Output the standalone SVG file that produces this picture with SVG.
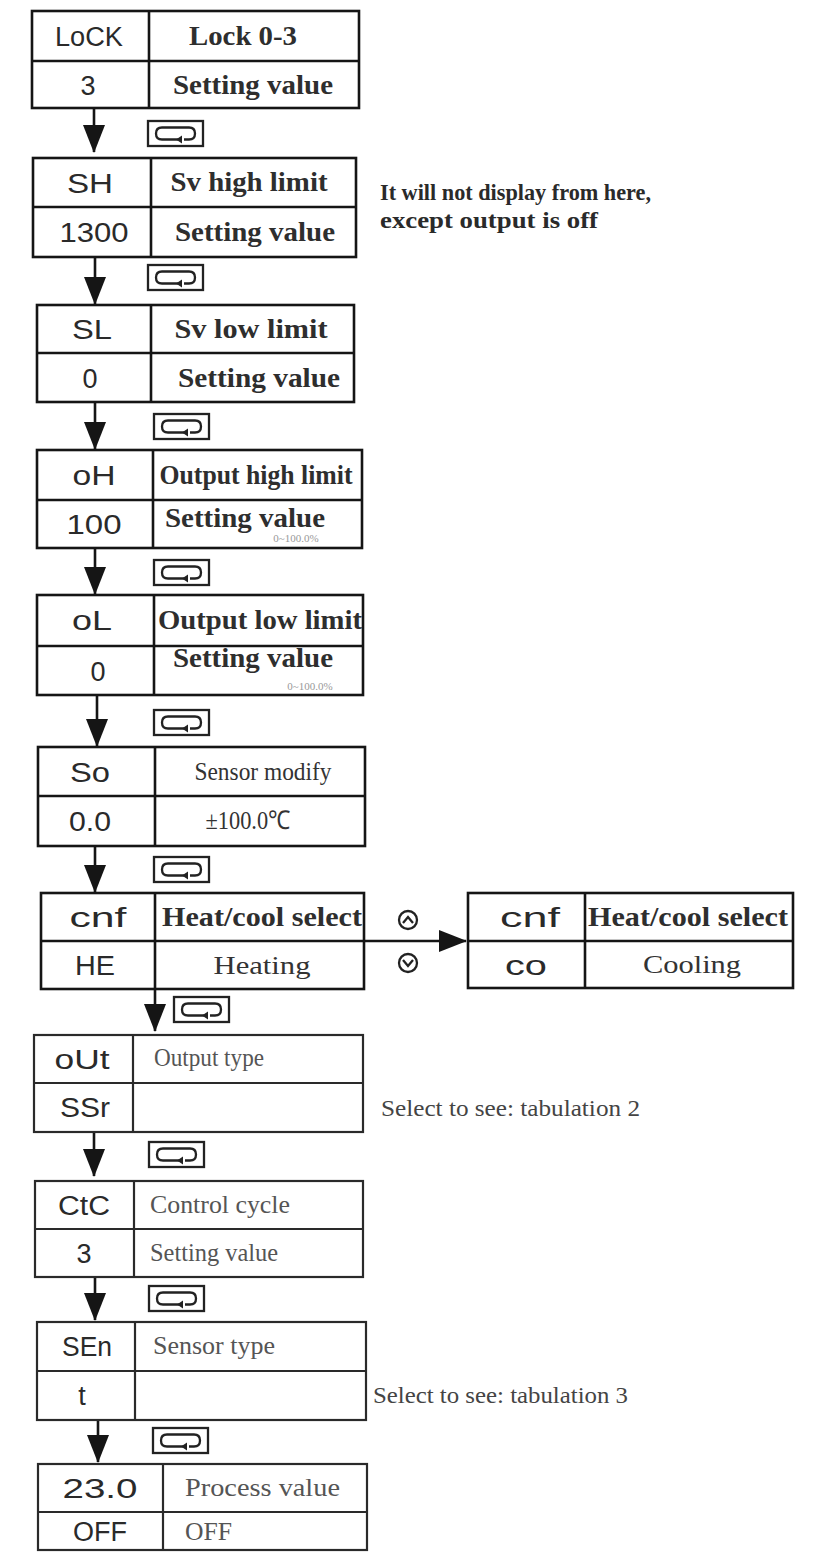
<svg xmlns="http://www.w3.org/2000/svg" xmlns:xlink="http://www.w3.org/1999/xlink" width="815" height="1555" viewBox="0 0 815 1555">
<style>
.bg{fill:#fff}
.box{fill:#fff;stroke:#151515;stroke-width:2.6}
.ln{stroke:#151515;stroke-width:2.6;fill:none}
.box2{fill:#fff;stroke:#2a2a2a;stroke-width:2.2}
.ln2{stroke:#2a2a2a;stroke-width:2.2;fill:none}
.code{font-family:"Liberation Sans","DejaVu Sans",sans-serif;font-size:27px;fill:#2a2a2a;text-anchor:middle}
.lbl{font-family:"Liberation Serif","Times New Roman",serif;font-size:28px;font-weight:bold;fill:#2e2e2e;text-anchor:middle}
.lblr{font-family:"Liberation Serif","Times New Roman",serif;font-size:26px;fill:#333;text-anchor:middle}
.lbl2{font-family:"Liberation Serif","Times New Roman",serif;font-size:25px;fill:#555}
.note{font-family:"Liberation Serif","Times New Roman",serif;font-size:23px;font-weight:bold;fill:#2a2a2a}
.note2{font-family:"Liberation Serif","Times New Roman",serif;font-size:24px;fill:#444}
.small{font-family:"Liberation Serif","Times New Roman",serif;font-size:11px;fill:#999;text-anchor:middle}
.conn{stroke:#151515;stroke-width:2.6;fill:none}
.sym{stroke:#222;stroke-width:2.3;fill:none}
</style>
<defs>
<marker id="ah" markerUnits="userSpaceOnUse" viewBox="0 0 28 22" markerWidth="28" markerHeight="22" refX="27" refY="11" orient="auto">
<path d="M0,0 L28,11 L0,22 z" fill="#151515"/>
</marker>
<g id="cycle">
<rect x="1" y="1" width="55" height="25" class="sym"/>
<path d="M31 19.5 H15 Q9 19.5 9 13.5 Q9 7.5 15 7.5 H42 Q48 7.5 48 13.5 Q48 19.5 42 19.5 H37" class="sym"/>
<path d="M29 19.5 L35 15.5 L35 23.5 z" fill="#222"/>
</g>
</defs>
<rect class="bg" x="0" y="0" width="815" height="1555"/>

<g id="connectors">
<line class="conn" x1="94" y1="108" x2="94" y2="152" marker-end="url(#ah)"/>
<line class="conn" x1="95" y1="257" x2="95" y2="304" marker-end="url(#ah)"/>
<line class="conn" x1="95" y1="402" x2="95" y2="449" marker-end="url(#ah)"/>
<line class="conn" x1="95" y1="548" x2="95" y2="594" marker-end="url(#ah)"/>
<line class="conn" x1="97" y1="695" x2="97" y2="746" marker-end="url(#ah)"/>
<line class="conn" x1="95" y1="846" x2="95" y2="892" marker-end="url(#ah)"/>
<line class="conn" x1="155" y1="989" x2="155" y2="1031" marker-end="url(#ah)"/>
<line class="conn" x1="94" y1="1132" x2="94" y2="1176" marker-end="url(#ah)"/>
<line class="conn" x1="95" y1="1277" x2="95" y2="1320" marker-end="url(#ah)"/>
<line class="conn" x1="98" y1="1420" x2="98" y2="1462" marker-end="url(#ah)"/>
<line class="conn" x1="364" y1="941" x2="466" y2="941" marker-end="url(#ah)"/>
<use xlink:href="#cycle" x="147" y="120"/>
<use xlink:href="#cycle" x="147" y="264"/>
<use xlink:href="#cycle" x="153" y="413"/>
<use xlink:href="#cycle" x="153" y="559"/>
<use xlink:href="#cycle" x="153" y="709"/>
<use xlink:href="#cycle" x="153" y="856"/>
<use xlink:href="#cycle" x="173" y="996"/>
<use xlink:href="#cycle" x="148" y="1141"/>
<use xlink:href="#cycle" x="148" y="1285"/>
<use xlink:href="#cycle" x="152" y="1427"/>
<g id="updown">
<circle cx="408" cy="920" r="9" class="sym"/>
<path d="M403 923 L408 917 L413 923" class="sym"/>
<circle cx="408" cy="963" r="9" class="sym"/>
<path d="M403 960 L408 966 L413 960" class="sym"/>
</g>
</g>

<g id="n-lock">
<rect class="box" x="32" y="11" width="327" height="97"/>
<line class="ln" x1="32" y1="61" x2="359" y2="61"/>
<line class="ln" x1="149" y1="11" x2="149" y2="108"/>
<text class="code" x="89" y="46" textLength="68" lengthAdjust="spacingAndGlyphs">LoCK</text>
<text class="lbl" x="243" y="45" textLength="108" lengthAdjust="spacingAndGlyphs">Lock 0-3</text>
<text class="code" x="88" y="95">3</text>
<text class="lbl" x="253" y="94" textLength="160" lengthAdjust="spacingAndGlyphs">Setting value</text>
</g>

<g id="n-sh">
<rect class="box" x="33" y="158" width="323" height="99"/>
<line class="ln" x1="33" y1="207" x2="356" y2="207"/>
<line class="ln" x1="151" y1="158" x2="151" y2="257"/>
<text class="code" x="90" y="193" textLength="46" lengthAdjust="spacingAndGlyphs">SH</text>
<text class="lbl" x="249" y="191" textLength="157" lengthAdjust="spacingAndGlyphs">Sv high limit</text>
<text class="code" x="94" y="242" textLength="69" lengthAdjust="spacingAndGlyphs">1300</text>
<text class="lbl" x="255" y="241" textLength="160" lengthAdjust="spacingAndGlyphs">Setting value</text>
</g>

<text class="note" x="380" y="200" textLength="271" lengthAdjust="spacingAndGlyphs">It will not display from here,</text>
<text class="note" x="380" y="228" textLength="218" lengthAdjust="spacingAndGlyphs">except output is off</text>

<g id="n-sl">
<rect class="box" x="37" y="305" width="317" height="97"/>
<line class="ln" x1="37" y1="353" x2="354" y2="353"/>
<line class="ln" x1="151" y1="305" x2="151" y2="402"/>
<text class="code" x="92" y="339" textLength="40" lengthAdjust="spacingAndGlyphs">SL</text>
<text class="lbl" x="251" y="338" textLength="153" lengthAdjust="spacingAndGlyphs">Sv low limit</text>
<text class="code" x="90" y="388">0</text>
<text class="lbl" x="259" y="387" textLength="162" lengthAdjust="spacingAndGlyphs">Setting value</text>
</g>

<g id="n-oh">
<rect class="box" x="37" y="450" width="325" height="98"/>
<line class="ln" x1="37" y1="500" x2="362" y2="500"/>
<line class="ln" x1="153" y1="450" x2="153" y2="548"/>
<text class="code" x="94" y="485" textLength="43" lengthAdjust="spacingAndGlyphs">oH</text>
<text class="lbl" x="256" y="484" textLength="193" lengthAdjust="spacingAndGlyphs">Output high limit</text>
<text class="code" x="94" y="534" textLength="55" lengthAdjust="spacingAndGlyphs">100</text>
<text class="lbl" x="245" y="527" textLength="160" lengthAdjust="spacingAndGlyphs">Setting value</text>
<text class="small" x="296" y="542">0~100.0%</text>
</g>

<g id="n-ol">
<rect class="box" x="37" y="595" width="326" height="100"/>
<line class="ln" x1="37" y1="646" x2="363" y2="646"/>
<line class="ln" x1="154" y1="595" x2="154" y2="695"/>
<text class="code" x="92" y="630" textLength="40" lengthAdjust="spacingAndGlyphs">oL</text>
<text class="lbl" x="260" y="629" textLength="204" lengthAdjust="spacingAndGlyphs">Output low limit</text>
<text class="code" x="98" y="681">0</text>
<text class="lbl" x="253" y="667" textLength="160" lengthAdjust="spacingAndGlyphs">Setting value</text>
<text class="small" x="310" y="690">0~100.0%</text>
</g>

<g id="n-so">
<rect class="box" x="38" y="747" width="327" height="99"/>
<line class="ln" x1="38" y1="796" x2="365" y2="796"/>
<line class="ln" x1="155" y1="747" x2="155" y2="846"/>
<text class="code" x="90" y="782" textLength="40" lengthAdjust="spacingAndGlyphs">So</text>
<text class="lblr" x="263" y="780" textLength="137" lengthAdjust="spacingAndGlyphs">Sensor modify</text>
<text class="code" x="90" y="831" textLength="42" lengthAdjust="spacingAndGlyphs">0.0</text>
<text class="lblr" x="248" y="829" font-size="22" textLength="85" lengthAdjust="spacingAndGlyphs">±100.0℃</text>
</g>

<g id="n-cnf-heat">
<rect class="box" x="41" y="893" width="323" height="96"/>
<line class="ln" x1="41" y1="941" x2="364" y2="941"/>
<line class="ln" x1="155" y1="893" x2="155" y2="989"/>
<text class="code" x="98" y="927" textLength="57" lengthAdjust="spacingAndGlyphs">cnf</text>
<text class="lbl" x="262" y="926" textLength="200" lengthAdjust="spacingAndGlyphs">Heat/cool select</text>
<text class="code" x="95" y="975" textLength="40" lengthAdjust="spacingAndGlyphs">HE</text>
<text class="lblr" x="262" y="974" textLength="97" lengthAdjust="spacingAndGlyphs">Heating</text>
</g>

<g id="n-cnf-cool">
<rect class="box" x="468" y="893" width="325" height="95"/>
<line class="ln" x1="468" y1="941" x2="793" y2="941"/>
<line class="ln" x1="585" y1="893" x2="585" y2="988"/>
<text class="code" x="530" y="927" textLength="60" lengthAdjust="spacingAndGlyphs">cnf</text>
<text class="lbl" x="688" y="926" textLength="200" lengthAdjust="spacingAndGlyphs">Heat/cool select</text>
<text class="code" x="526" y="975" textLength="42" lengthAdjust="spacingAndGlyphs">co</text>
<text class="lblr" x="692" y="973" textLength="98" lengthAdjust="spacingAndGlyphs">Cooling</text>
</g>

<g id="n-out">
<rect class="box2" x="34" y="1035" width="329" height="97"/>
<line class="ln2" x1="34" y1="1083" x2="363" y2="1083"/>
<line class="ln2" x1="133" y1="1035" x2="133" y2="1132"/>
<text class="code" x="82" y="1069" textLength="55" lengthAdjust="spacingAndGlyphs">oUt</text>
<text class="lbl2" x="154" y="1066" textLength="110" lengthAdjust="spacingAndGlyphs">Output type</text>
<text class="code" x="85" y="1117" textLength="50" lengthAdjust="spacingAndGlyphs">SSr</text>
</g>
<text class="note2" x="381" y="1116" textLength="259" lengthAdjust="spacingAndGlyphs">Select to see: tabulation 2</text>

<g id="n-ctc">
<rect class="box2" x="35" y="1181" width="328" height="96"/>
<line class="ln2" x1="35" y1="1229" x2="363" y2="1229"/>
<line class="ln2" x1="134" y1="1181" x2="134" y2="1277"/>
<text class="code" x="84" y="1215" textLength="52" lengthAdjust="spacingAndGlyphs">CtC</text>
<text class="lbl2" x="150" y="1213" textLength="140" lengthAdjust="spacingAndGlyphs">Control cycle</text>
<text class="code" x="84" y="1263">3</text>
<text class="lbl2" x="150" y="1261" textLength="128" lengthAdjust="spacingAndGlyphs">Setting value</text>
</g>

<g id="n-sen">
<rect class="box2" x="37" y="1322" width="329" height="98"/>
<line class="ln2" x1="37" y1="1371" x2="366" y2="1371"/>
<line class="ln2" x1="135" y1="1322" x2="135" y2="1420"/>
<text class="code" x="87" y="1356" textLength="50" lengthAdjust="spacingAndGlyphs">SEn</text>
<text class="lbl2" x="153" y="1354" textLength="122" lengthAdjust="spacingAndGlyphs">Sensor type</text>
<text class="code" x="82" y="1405">t</text>
</g>
<text class="note2" x="373" y="1403" textLength="255" lengthAdjust="spacingAndGlyphs">Select to see: tabulation 3</text>

<g id="n-pv">
<rect class="box2" x="38" y="1464" width="329" height="86"/>
<line class="ln2" x1="38" y1="1512" x2="367" y2="1512"/>
<line class="ln2" x1="163" y1="1464" x2="163" y2="1550"/>
<text class="code" x="100" y="1498" textLength="75" lengthAdjust="spacingAndGlyphs">23.0</text>
<text class="lbl2" x="185" y="1496" textLength="155" lengthAdjust="spacingAndGlyphs">Process value</text>
<text class="code" x="100" y="1541" textLength="54" lengthAdjust="spacingAndGlyphs">OFF</text>
<text class="lbl2" x="185" y="1540" textLength="47" lengthAdjust="spacingAndGlyphs">OFF</text>
</g>
</svg>
